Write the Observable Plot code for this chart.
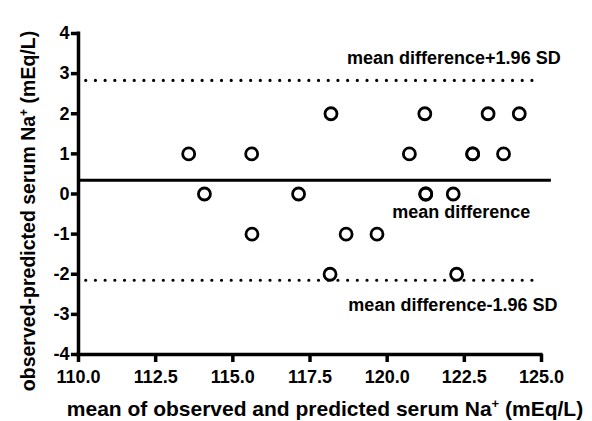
<!DOCTYPE html>
<html><head><meta charset="utf-8">
<script src="https://cdn.jsdelivr.net/npm/d3@7"></script>
<script src="https://cdn.jsdelivr.net/npm/@observablehq/plot@0.6"></script>
<style>
body{margin:0;background:#fff;}
#chart svg{display:block;}
</style>
</head><body><div id="chart"></div>
<script>
// Bland-Altman data: mean of observed & predicted (x), observed-predicted (y)
const meanNa = [113.57, 114.08, 115.61, 115.62, 117.13, 118.18, 118.15, 118.67, 119.67, 120.72,
                121.22, 121.25, 121.25, 122.14, 122.25, 122.77, 122.77, 123.27, 123.77, 124.28];
const diffNa = [1, 0, 1, -1, 0, 2, -2, -1, -1, 1,
                2, 0, 0, 0, -2, 1, 1, 2, 1, 2];
const xTicks = [110, 112.5, 115, 117.5, 120, 122.5, 125];
const yTicks = [-4, -3, -2, -1, 0, 1, 2, 3, 4];
const meanDiff = 0.34;
const upperLoA = 2.83;
const lowerLoA = -2.15;
const lineLabels = ["mean difference+1.96 SD", "mean difference", "mean difference-1.96 SD"];

const pts = meanNa.map((x, i) => ({x, y: diffNa[i]}));
const font = "'Liberation Sans', Arial, sans-serif";

const plot = Plot.plot({
  width: 592, height: 421,
  marginLeft: 78, marginRight: 51, marginTop: 33, marginBottom: 67,
  style: {fontFamily: font, fontWeight: "bold", fontSize: "18px", color: "#000", background: "#fff"},
  x: {domain: [110, 125]},
  y: {domain: [-4, 4]},
  marks: [
    Plot.axisX({ticks: xTicks, tickFormat: d3.format(".1f"), tickSize: 0, tickPadding: 16, label: null, fontSize: 18, fontWeight: "bold", fill: "#000"}),
    Plot.axisY({ticks: yTicks, tickFormat: d => String(d), tickSize: 0, tickPadding: 9, label: null, fontSize: 18, fontWeight: "bold", fill: "#000"}),
    // tick marks
    Plot.ruleX(xTicks, {x: d => d, y1: -4, y2: -4.2, stroke: "#000", strokeWidth: 3.5}),
    Plot.ruleY(yTicks, {y: d => d, x1: 110, x2: 109.77, stroke: "#000", strokeWidth: 3.5}),
    // axis lines
    Plot.ruleX([110], {y1: -4.05, y2: 4.04, stroke: "#000", strokeWidth: 3.5}),
    Plot.ruleY([-4], {x1: 109.95, x2: 125.05, stroke: "#000", strokeWidth: 3.5}),
    // limits of agreement and mean difference
    Plot.ruleY([upperLoA, lowerLoA], {x1: 110.25, x2: 125, stroke: "#000", strokeWidth: 3.2, strokeDasharray: "0 9.7", strokeLinecap: "round"}),
    Plot.ruleY([meanDiff], {x1: 110, x2: 125.32, stroke: "#000", strokeWidth: 3}),
    Plot.dot(pts, {x: "x", y: "y", r: 6, stroke: "#000", strokeWidth: 2.8, fill: "none"}),
    Plot.text([lineLabels[0]], {x: 122.16, y: upperLoA, dy: -22.5, text: d => d, fontSize: 18, fontWeight: "bold", fill: "#000"}),
    Plot.text([lineLabels[1]], {x: 122.4, y: meanDiff, dy: 31.5, text: d => d, fontSize: 18, fontWeight: "bold", fill: "#000"}),
    Plot.text([lineLabels[2]], {x: 122.13, y: lowerLoA, dy: 25, text: d => d, fontSize: 18, fontWeight: "bold", fill: "#000"})
  ]
});

const svg = d3.select(plot);
// x axis label
const xl = svg.append("text")
  .attr("x", 325).attr("y", 416)
  .attr("text-anchor", "middle")
  .attr("font-family", font).attr("font-weight", "bold").attr("font-size", 21).attr("fill", "#000");
xl.append("tspan").text("mean of observed and predicted serum Na");
xl.append("tspan").attr("dy", -8).attr("font-size", 13).text("+");
xl.append("tspan").attr("dy", 8).text(" (mEq/L)");
// y axis label
const yl = svg.append("text")
  .attr("transform", "translate(35,211) rotate(-90)")
  .attr("text-anchor", "middle")
  .attr("font-family", font).attr("font-weight", "bold").attr("font-size", 19.5).attr("fill", "#000");
yl.append("tspan").text("observed-predicted serum Na");
yl.append("tspan").attr("dy", -7).attr("font-size", 12).text("+");
yl.append("tspan").attr("dy", 7).text(" (mEq/L)");

document.getElementById("chart").appendChild(plot);
</script>
</body></html>
